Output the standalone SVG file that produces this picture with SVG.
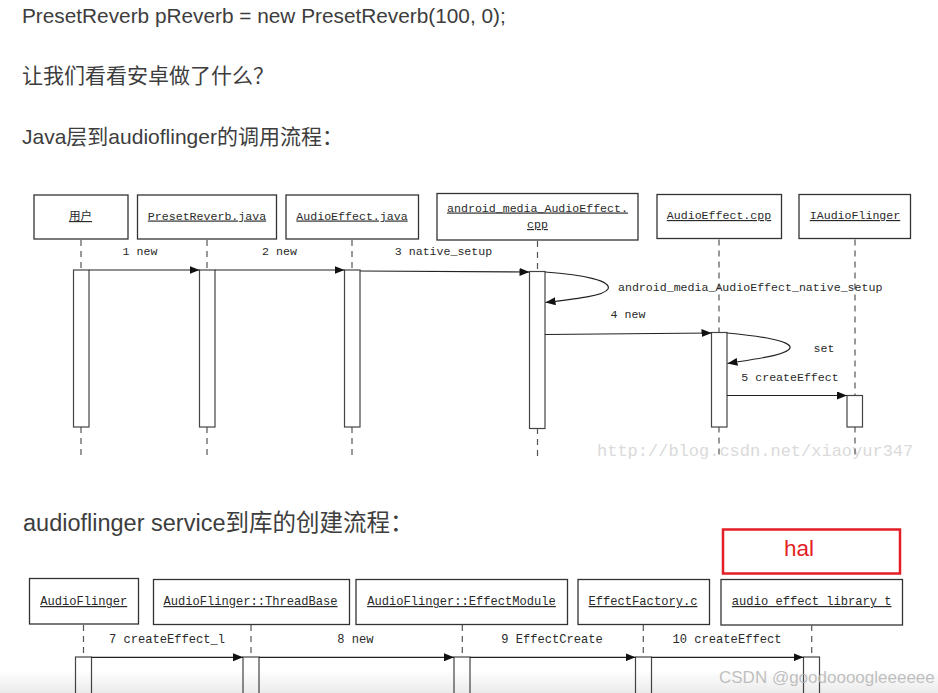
<svg xmlns="http://www.w3.org/2000/svg" width="938" height="693" viewBox="0 0 938 693">
<style>
.prose{font-family:"Liberation Sans","Noto Sans CJK SC",sans-serif;fill:#3d3d3d}
.box{fill:#fff;stroke:#333;stroke-width:1.3}
.bar{fill:#fff;stroke:#444;stroke-width:1.2}
.life{stroke:#555;stroke-width:1.2;stroke-dasharray:6 5;fill:none}
.hd{font-family:"Liberation Mono","Noto Sans CJK SC",monospace;font-size:11.6px;fill:#2a2a2a;text-anchor:middle;text-decoration:underline}
.hd2{font-family:"Liberation Mono","Noto Sans CJK SC",monospace;font-size:12.1px;fill:#2a2a2a;text-anchor:middle;text-decoration:underline}
.lbl{font-family:"Liberation Mono",monospace;font-size:11.6px;fill:#2a2a2a}
.lbl2{font-family:"Liberation Mono",monospace;font-size:12.1px;fill:#2a2a2a}
.msg{stroke:#222;stroke-width:1.2;fill:none;marker-end:url(#ah)}
</style>
<defs>
<marker id="ah" markerWidth="10" markerHeight="8" refX="10" refY="4" orient="auto" markerUnits="userSpaceOnUse">
<path d="M0,0 L10,4 L0,8 z" fill="#111"/>
</marker>
<linearGradient id="shade" x1="0" y1="0" x2="0" y2="1">
<stop offset="0" stop-color="#000" stop-opacity="0"/>
<stop offset="1" stop-color="#000" stop-opacity="0.08"/>
</linearGradient>
</defs>
<rect x="0" y="0" width="938" height="693" fill="#fff"/>

<g id="prose">
<text class="prose" x="22" y="23" font-size="20.8">PresetReverb pReverb = new PresetReverb(100, 0);</text>
<text class="prose" x="22" y="83" font-size="21">让我们看看安卓做了什么？</text>
<text class="prose" x="22" y="144" font-size="21">Java层到audioflinger的调用流程：</text>
<text class="prose" x="23" y="531" font-size="23.5">audioflinger service到库的创建流程：</text>
</g>

<text x="597" y="456" font-family="Liberation Mono,monospace" font-size="17" fill="#dadada">http://blog.csdn.net/xiaoyur347</text>

<g id="n-user">
<rect class="box" x="34" y="195" width="94" height="44"/>
<line class="life" x1="81" y1="240" x2="81" y2="457"/>
<rect class="bar" x="73.5" y="270" width="15.5" height="157"/>
<text class="hd" x="80.5" y="220" font-size="14">用户</text>
</g>
<g id="n-presetreverb">
<rect class="box" x="137.5" y="195" width="139" height="44"/>
<line class="life" x1="207" y1="240" x2="207" y2="457"/>
<rect class="bar" x="199.5" y="270" width="15.5" height="157"/>
<text class="hd" x="207" y="219.5">PresetReverb.java</text>
</g>
<g id="n-audioeffect-java">
<rect class="box" x="286" y="195" width="132.5" height="44"/>
<line class="life" x1="352" y1="240" x2="352" y2="457"/>
<rect class="bar" x="344.5" y="270" width="15.5" height="157"/>
<text class="hd" x="352" y="219.5">AudioEffect.java</text>
</g>
<g id="n-android-media">
<rect class="box" x="437" y="193.5" width="201" height="46.5"/>
<line class="life" x1="537.5" y1="241" x2="537.5" y2="457"/>
<rect class="bar" x="529.5" y="271.5" width="15.5" height="157"/>
<text class="hd" x="537.5" y="211.5">android_media_AudioEffect.</text>
<text class="hd" x="537.5" y="228">cpp</text>
</g>
<g id="n-audioeffect-cpp">
<rect class="box" x="657" y="194.5" width="124.5" height="44"/>
<line class="life" x1="719" y1="239.5" x2="719" y2="457"/>
<rect class="bar" x="711.5" y="332.5" width="15.5" height="94.5"/>
<text class="hd" x="719" y="219">AudioEffect.cpp</text>
</g>
<g id="n-iaudioflinger">
<rect class="box" x="799" y="194.5" width="111.5" height="44"/>
<line class="life" x1="855" y1="239.5" x2="855" y2="457"/>
<rect class="bar" x="847" y="395.5" width="15.5" height="31.5"/>
<text class="hd" x="855" y="219">IAudioFlinger</text>
</g>

<g id="hal">
<rect x="723" y="529.5" width="177" height="44" fill="none" stroke="#e41e26" stroke-width="2.5"/>
<text x="799" y="556" font-family="Liberation Sans,sans-serif" font-size="22.5" fill="#e41e26" text-anchor="middle">hal</text>
</g>

<g id="m-audioflinger">
<rect class="box" x="29.5" y="578.5" width="109" height="45.5"/>
<line class="life" x1="83.5" y1="625" x2="83.5" y2="657"/>
<rect class="bar" x="75.5" y="657" width="16" height="45"/>
<text class="hd2" x="83.7" y="605">AudioFlinger</text>
</g>
<g id="m-threadbase">
<rect class="box" x="153.5" y="579.5" width="196" height="45"/>
<line class="life" x1="251" y1="625" x2="251" y2="657"/>
<rect class="bar" x="243" y="657" width="16" height="45"/>
<text class="hd2" x="250.5" y="605">AudioFlinger::ThreadBase</text>
</g>
<g id="m-effectmodule">
<rect class="box" x="356" y="579.5" width="211.5" height="45"/>
<line class="life" x1="462.3" y1="625" x2="462.3" y2="657"/>
<rect class="bar" x="454" y="657" width="16" height="45"/>
<text class="hd2" x="461.5" y="605">AudioFlinger::EffectModule</text>
</g>
<g id="m-effectfactory">
<rect class="box" x="578" y="579.5" width="131.5" height="45"/>
<line class="life" x1="643.3" y1="625" x2="643.3" y2="657"/>
<rect class="bar" x="635.5" y="657" width="16" height="45"/>
<text class="hd2" x="643" y="605">EffectFactory.c</text>
</g>
<g id="m-audio-effect-library">
<rect class="box" x="721" y="579.5" width="181.5" height="45.5"/>
<line class="life" x1="811.7" y1="625" x2="811.7" y2="657"/>
<rect class="bar" x="803.5" y="657" width="16" height="45"/>
<text class="hd2" x="811.7" y="605">audio_effect_library_t</text>
</g>

<g id="connectors">
<line class="msg" x1="89" y1="270" x2="199.5" y2="270"/>
<text class="lbl" x="140" y="255" text-anchor="middle">1 new</text>
<line class="msg" x1="215" y1="270" x2="344.5" y2="270"/>
<text class="lbl" x="279.5" y="255" text-anchor="middle">2 new</text>
<line class="msg" x1="360" y1="271" x2="529.5" y2="272"/>
<text class="lbl" x="443.5" y="255" text-anchor="middle">3 native_setup</text>
<path class="msg" d="M545,272 C585,275 612,281 608,289 C604,296 575,299 545.5,302.5"/>
<text class="lbl" x="618" y="290.5">android_media_AudioEffect_native_setup</text>
<line class="msg" x1="545" y1="334.5" x2="711.5" y2="333"/>
<text class="lbl" x="628" y="318" text-anchor="middle">4 new</text>
<path class="msg" d="M727,333 C760,336 792,341 790,348 C788,355 755,359 727.5,363.5"/>
<text class="lbl" x="824" y="352" text-anchor="middle">set</text>
<line class="msg" x1="727" y1="395.5" x2="847" y2="395.5"/>
<text class="lbl" x="790" y="381" text-anchor="middle">5 createEffect</text>

<line class="msg" x1="91.5" y1="657.3" x2="243" y2="657.3"/>
<text class="lbl2" x="167" y="642.5" text-anchor="middle">7 createEffect_l</text>
<line class="msg" x1="259" y1="657.3" x2="454" y2="657.3"/>
<text class="lbl2" x="355.5" y="642.5" text-anchor="middle">8 new</text>
<line class="msg" x1="470" y1="657.3" x2="635.5" y2="657.3"/>
<text class="lbl2" x="552" y="642.5" text-anchor="middle">9 EffectCreate</text>
<line class="msg" x1="651.5" y1="657.3" x2="803.5" y2="657.3"/>
<text class="lbl2" x="727" y="642.5" text-anchor="middle">10 createEffect</text>
</g>

<rect x="0" y="670" width="938" height="23" fill="url(#shade)"/>
<text x="719" y="683" font-family="Liberation Sans,sans-serif" font-size="17" fill="#b4b4b4" fill-opacity="0.85">CSDN @goodoooogleeeeee</text>
</svg>
